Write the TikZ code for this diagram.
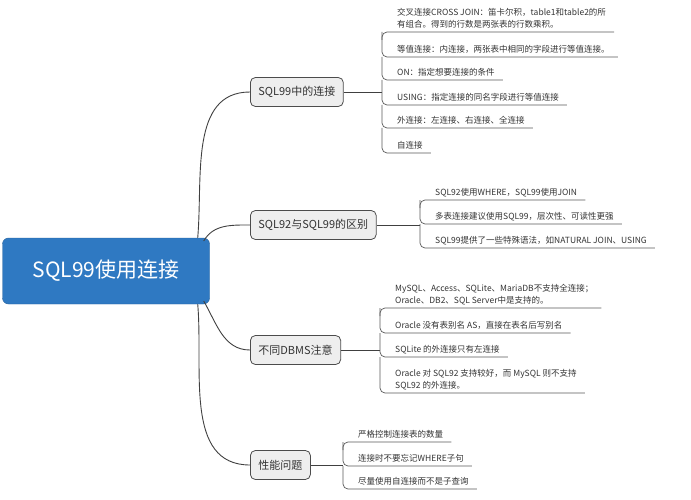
\documentclass[tikz,border=0pt]{standalone}
\usepackage{fontspec}
\setmainfont{Noto Sans CJK SC}
\definecolor{rootblue}{HTML}{2F79C2}
\definecolor{txtgray}{HTML}{333333}
\definecolor{boxgray}{HTML}{EEEEEE}
\tikzset{
  root/.style={draw=rootblue!80!black, fill=rootblue, rounded corners=6pt, text=white,
    font=\fontsize{21}{24}\selectfont, minimum width=207pt, minimum height=66pt},
  branch/.style={draw=black!70, fill=boxgray, rounded corners=5pt, text=txtgray, line width=0.8pt,
    font=\fontsize{11}{13}\selectfont, minimum height=29pt, inner xsep=8pt},
  leaf/.style={anchor=south west, inner xsep=0pt, inner ysep=1pt, text=txtgray,
    font=\fontsize{8.5}{12}\selectfont},
  conn/.style={draw=black!75, line width=0.9pt},
  twig/.style={draw=black!65, line width=0.7pt, rounded corners=5pt},
}
\newcommand{\lf}[1]{\begin{tabular}{@{\hspace{15pt}}l@{\hspace{8pt}}}#1\end{tabular}}
\begin{document}
\begin{tikzpicture}[x=1pt,y=-1pt]
  \useasboundingbox (0,0) rectangle (691,500);
  \node[root] (root) at (106,271) {SQL99使用连接};

  \node[branch, anchor=west] (b1) at (250,92) {SQL99中的连接};
  \node[branch, anchor=west] (b2) at (250,225) {SQL92与SQL99的区别};
  \node[branch, anchor=west] (b3) at (250,350) {不同DBMS注意};
  \node[branch, anchor=west] (b4) at (250,465) {性能问题};

  \draw[conn] (root.east) ++(-12,-33) to[out=85,in=180] (b1.west);
  \draw[conn] (root.east) ++(-6,-30) to[out=60,in=180] (b2.west);
  \draw[conn] (root.east) ++(-6,30) to[out=-60,in=180] (b3.west);
  \draw[conn] (root.east) ++(-12,33) to[out=-85,in=180] (b4.west);

  % SQL99中的连接
  \node[leaf] (a1) at (382,32) {\lf{交叉连接CROSS JOIN：笛卡尔积，table1和table2的所\\有组合。得到的行数是两张表的行数乘积。}};
  \node[leaf] (a2) at (382,57) {\lf{等值连接：内连接，两张表中相同的字段进行等值连接。}};
  \node[leaf] (a3) at (382,80) {\lf{ON：指定想要连接的条件}};
  \node[leaf] (a4) at (382,105) {\lf{USING：指定连接的同名字段进行等值连接}};
  \node[leaf] (a5) at (382,128) {\lf{外连接：左连接、右连接、全连接}};
  \node[leaf] (a6) at (382,153) {\lf{自连接}};
  \draw[conn] (b1.east) -- (382,92);
  \draw[twig] (382,40) |- (a1.south east);
  \draw[twig] (a1.south west) |- (a2.south east);
  \draw[twig] (a2.south west) |- (a3.south east);
  \draw[twig] (a3.south west) |- (a4.south east);
  \draw[twig] (a4.south west) |- (a5.south east);
  \draw[twig] (a5.south west) |- (a6.south east);

  % SQL92与SQL99的区别
  \node[leaf] (c1) at (420,200) {\lf{SQL92使用WHERE，SQL99使用JOIN}};
  \node[leaf] (c2) at (420,224) {\lf{多表连接建议使用SQL99，层次性、可读性更强}};
  \node[leaf] (c3) at (420,248) {\lf{SQL99提供了一些特殊语法，如NATURAL JOIN、USING}};
  \draw[conn] (b2.east) -- (420,225);
  \draw[twig] (420,208) |- (c1.south east);
  \draw[twig] (c1.south west) |- (c2.south east);
  \draw[twig] (c2.south west) |- (c3.south east);

  % 不同DBMS注意
  \node[leaf] (d1) at (380,308) {\lf{MySQL、Access、SQLite、MariaDB不支持全连接；\\Oracle、DB2、SQL Server中是支持的。}};
  \node[leaf] (d2) at (380,333) {\lf{Oracle 没有表别名 AS，直接在表名后写别名}};
  \node[leaf] (d3) at (380,357) {\lf{SQLite 的外连接只有左连接}};
  \node[leaf] (d4) at (380,393) {\lf{Oracle 对 SQL92 支持较好，而 MySQL 则不支持\\SQL92 的外连接。}};
  \draw[conn] (b3.east) -- (380,350);
  \draw[twig] (380,316) |- (d1.south east);
  \draw[twig] (d1.south west) |- (d2.south east);
  \draw[twig] (d2.south west) |- (d3.south east);
  \draw[twig] (d3.south west) |- (d4.south east);

  % 性能问题
  \node[leaf] (e1) at (343,442) {\lf{严格控制连接表的数量}};
  \node[leaf] (e2) at (343,466) {\lf{连接时不要忘记WHERE子句}};
  \node[leaf] (e3) at (343,489) {\lf{尽量使用自连接而不是子查询}};
  \draw[conn] (b4.east) -- (343,465);
  \draw[twig] (343,450) |- (e1.south east);
  \draw[twig] (e1.south west) |- (e2.south east);
  \draw[twig] (e2.south west) |- (e3.south east);
\end{tikzpicture}
\end{document}
